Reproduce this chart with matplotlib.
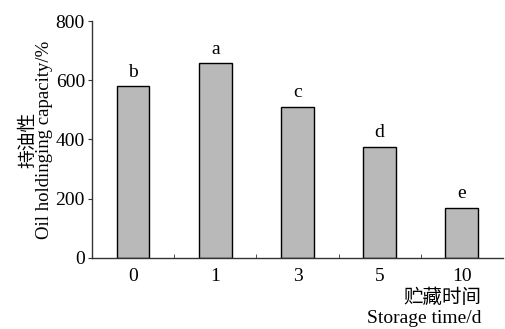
import matplotlib
import matplotlib.pyplot as plt
import matplotlib.ticker as ticker

matplotlib.use('Agg')

# storage days vs oil holding capacity
days = ['0', '1', '3', '5', '10']
capacity = [580, 658, 510, 376, 170]
letters = ['b', 'a', 'c', 'd', 'e']

plt.rcParams['font.family'] = ['Liberation Serif', 'Noto Sans CJK SC']

fig = plt.figure(figsize=(5.05, 3.29), dpi=100)
ax = fig.add_axes([0.182, 0.216, 0.814, 0.72])

pos = list(range(len(days)))
bars = ax.bar(pos, capacity, width=0.4, color='#b9b9b9', edgecolor='black', linewidth=1.0)
for b, t in zip(bars, letters):
    ax.annotate(t, (b.get_x() + b.get_width() / 2, b.get_height()),
                xytext=(0, 4), textcoords='offset points',
                ha='center', va='bottom', fontsize=14)

ax.set_xlim(-0.5, 4.5)
ax.set_ylim(0, 800)
ax.yaxis.set_major_locator(ticker.MultipleLocator(200))
ax.set_xticks(pos)
ax.set_xticklabels(days)
ax.xaxis.set_minor_locator(ticker.FixedLocator([0.5, 1.5, 2.5, 3.5]))

for s in ['top', 'right']:
    ax.spines[s].set_visible(False)
for s in ['left', 'bottom']:
    ax.spines[s].set_color('#333333')
    ax.spines[s].set_linewidth(1.0)

ax.tick_params(axis='x', which='major', length=0, labelsize=14, pad=7)
ax.tick_params(axis='x', which='minor', direction='in', length=3, color='#333333')
ax.tick_params(axis='y', direction='out', length=3, labelsize=14, color='#333333', pad=2)

ax.set_ylabel('持油性\nOil holdinging capacity/%', fontsize=13.5, linespacing=0.9, labelpad=2)
fig.text(0.953, 0.095, '贮藏时间', ha='right', va='center', fontsize=14)
fig.text(0.953, 0.033, 'Storage time/d', ha='right', va='center', fontsize=14)

fig.savefig('out.png', dpi=100)
